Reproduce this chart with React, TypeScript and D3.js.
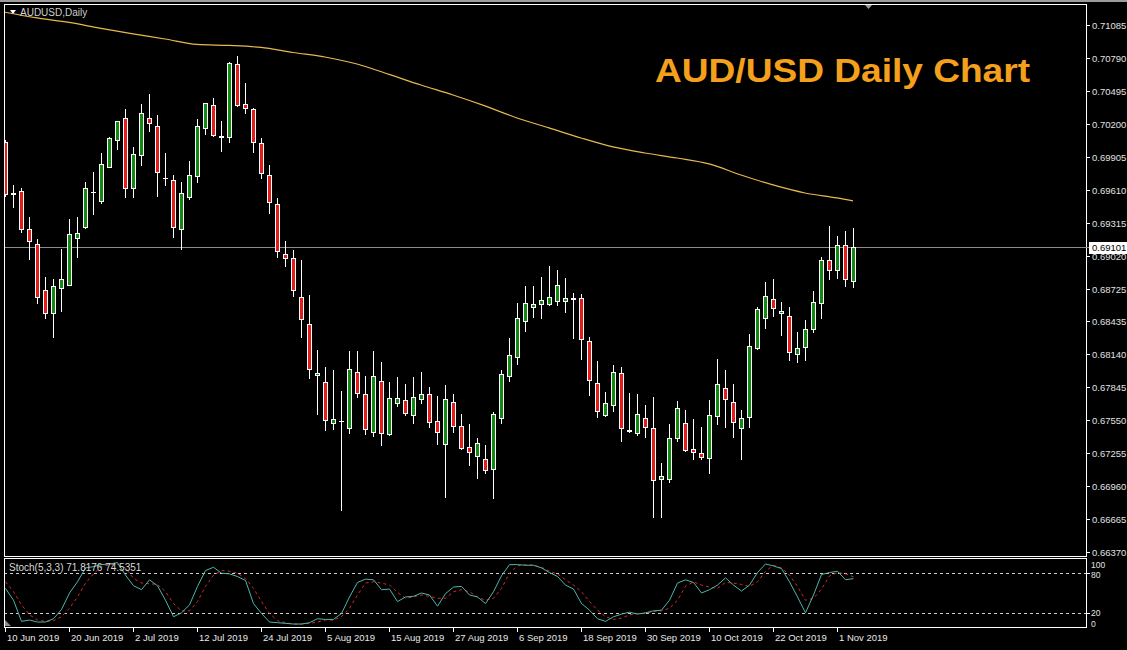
import React from "react";
import * as d3 from "d3";

// AUDUSD daily, 10 Jun 2019 .. 5 Nov 2019
const tickLabels = [
  "10 Jun 2019", "20 Jun 2019", "2 Jul 2019", "12 Jul 2019", "24 Jul 2019", "5 Aug 2019", "15 Aug 2019",
  "27 Aug 2019", "6 Sep 2019", "18 Sep 2019", "30 Sep 2019", "10 Oct 2019", "22 Oct 2019", "1 Nov 2019",
];
const barsPerTick = 8;

const priceTicks = [
  0.71085, 0.7079, 0.70495, 0.702, 0.69905, 0.6961, 0.69315, 0.6902, 0.68725, 0.68435, 0.6814,
  0.67845, 0.6755, 0.67255, 0.6696, 0.66665, 0.6637,
];
const lastPrice = 0.69101;

const opens = [
  0.70039, 0.69569, 0.69601, 0.6926, 0.69126, 0.68715, 0.68509, 0.68732, 0.68759, 0.69179,
  0.69278, 0.69587, 0.69511, 0.69815, 0.70056, 0.70253, 0.69627, 0.69922, 0.70253, 0.70181,
  0.69717, 0.69699, 0.6926, 0.69547, 0.69735, 0.70163, 0.70369, 0.70092, 0.70083, 0.70737,
  0.70378, 0.70334, 0.7003, 0.69744, 0.69484, 0.69036, 0.69, 0.68652, 0.68411, 0.67954,
  0.67892, 0.67524, 0.67542, 0.67479, 0.67981, 0.67784, 0.67444, 0.679, 0.67426, 0.67703,
  0.6773, 0.67596, 0.67739, 0.67784, 0.67542, 0.67336, 0.67712, 0.67497, 0.6731, 0.67229,
  0.67202, 0.67113, 0.67569, 0.67945, 0.68115, 0.68437, 0.68562, 0.68589, 0.68589, 0.68616,
  0.68616, 0.68634, 0.68643, 0.68258, 0.67882, 0.67596, 0.67685, 0.67972, 0.67453, 0.67435,
  0.67569, 0.67479, 0.67023, 0.67023, 0.6739, 0.67524, 0.67292, 0.67256, 0.67211, 0.67587,
  0.67837, 0.67712, 0.67479, 0.67578, 0.68196, 0.68464, 0.68634, 0.68509, 0.68482, 0.68142,
  0.68205, 0.68366, 0.68598, 0.68983, 0.68893, 0.69117, 0.68795,
];
const highs = [
  0.70056, 0.69654, 0.69627, 0.69368, 0.6917, 0.68831, 0.68813, 0.69081, 0.6935, 0.69368,
  0.69681, 0.69771, 0.6994, 0.70083, 0.70226, 0.70334, 0.69994, 0.70378, 0.70468, 0.7028,
  0.6994, 0.69744, 0.69681, 0.69869, 0.70244, 0.70387, 0.70432, 0.70226, 0.70755, 0.70808,
  0.70566, 0.70342, 0.70074, 0.69833, 0.69538, 0.69153, 0.69072, 0.68983, 0.6867, 0.68178,
  0.68026, 0.67999, 0.67811, 0.68169, 0.68169, 0.67945, 0.68169, 0.68071, 0.67891, 0.67936,
  0.67873, 0.67936, 0.67981, 0.67846, 0.67766, 0.67864, 0.67784, 0.67605, 0.67515, 0.6739,
  0.67328, 0.67623, 0.67999, 0.68285, 0.68598, 0.6875, 0.6875, 0.68831, 0.68929, 0.68893,
  0.68822, 0.68688, 0.68679, 0.68294, 0.6808, 0.67802, 0.68044, 0.68026, 0.67793, 0.67784,
  0.67685, 0.67757, 0.67166, 0.67515, 0.67721, 0.67641, 0.6756, 0.67488, 0.6773, 0.68097,
  0.67999, 0.67873, 0.67641, 0.68321, 0.68562, 0.68786, 0.68813, 0.68607, 0.68562, 0.68339,
  0.68446, 0.68705, 0.69009, 0.69287, 0.69197, 0.69242, 0.69269,
];
const lows = [
  0.69556, 0.69457, 0.69233, 0.68992, 0.68598, 0.68464, 0.68294, 0.68527, 0.68759, 0.69009,
  0.69269, 0.69395, 0.69493, 0.69815, 0.69976, 0.69547, 0.69547, 0.69833, 0.70137, 0.69556,
  0.69654, 0.69188, 0.69081, 0.69529, 0.69681, 0.7011, 0.70092, 0.69958, 0.70039, 0.7036,
  0.70298, 0.69949, 0.69717, 0.69404, 0.69009, 0.68929, 0.68661, 0.68294, 0.67927, 0.67605,
  0.67462, 0.67471, 0.66745, 0.67435, 0.67757, 0.67426, 0.67408, 0.67328, 0.6742, 0.67676,
  0.67596, 0.67524, 0.67703, 0.67488, 0.67336, 0.66862, 0.67444, 0.67295, 0.67149, 0.67032,
  0.67077, 0.66853, 0.67524, 0.679, 0.68053, 0.68348, 0.68473, 0.68464, 0.6858, 0.6858,
  0.68518, 0.68285, 0.68097, 0.67775, 0.67578, 0.6759, 0.67632, 0.67363, 0.67444, 0.67417,
  0.67399, 0.66683, 0.66683, 0.66996, 0.67363, 0.67274, 0.67202, 0.67202, 0.67077, 0.67515,
  0.67488, 0.67399, 0.67202, 0.67488, 0.6819, 0.68374, 0.68482, 0.68312, 0.68088, 0.68071,
  0.68088, 0.68339, 0.68464, 0.68813, 0.68822, 0.6875, 0.68741,
];
const closes = [
  0.69574, 0.69583, 0.6926, 0.69153, 0.68652, 0.68509, 0.6875, 0.68813, 0.69215, 0.69224,
  0.69627, 0.69592, 0.69842, 0.70074, 0.70226, 0.69627, 0.69931, 0.70298, 0.70208, 0.69771,
  0.69712, 0.69278, 0.69583, 0.69744, 0.70181, 0.70387, 0.70101, 0.70083, 0.70746, 0.70369,
  0.70342, 0.70039, 0.69762, 0.69502, 0.69063, 0.69, 0.68715, 0.68455, 0.68008, 0.67972,
  0.67551, 0.6756, 0.6754, 0.68008, 0.67793, 0.67471, 0.67945, 0.67435, 0.67748, 0.67748,
  0.67614, 0.67757, 0.67784, 0.67533, 0.67444, 0.67739, 0.67497, 0.67301, 0.67265, 0.67345,
  0.67104, 0.67605, 0.67963, 0.68133, 0.68464, 0.68598, 0.68589, 0.68625, 0.68652, 0.68759,
  0.68643, 0.68643, 0.68276, 0.67909, 0.67632, 0.67703, 0.67981, 0.67479, 0.67462, 0.67605,
  0.67488, 0.67014, 0.6705, 0.6739, 0.67659, 0.67283, 0.67265, 0.6722, 0.67596, 0.67873,
  0.67739, 0.67533, 0.67569, 0.68214, 0.68545, 0.68661, 0.68553, 0.68527, 0.6816, 0.68196,
  0.68366, 0.68607, 0.68983, 0.68893, 0.69117, 0.68813, 0.69101,
];

// 200-period moving average, read at a few bars
const maBars = [0, 4, 8, 12, 16, 20, 24, 28, 32, 36, 40, 44, 48, 52, 56, 60, 64, 68, 72, 76, 80, 84, 88, 92, 96, 100, 104, 106];
const maValues = [
  0.71199, 0.71148, 0.71108, 0.71054, 0.71005, 0.7096, 0.70911, 0.70902, 0.70884, 0.70839,
  0.70799, 0.70736, 0.70643, 0.70548, 0.70459, 0.70361, 0.70253, 0.70164, 0.70074, 0.69994,
  0.6994, 0.69895, 0.69842, 0.69743, 0.69654, 0.69582, 0.69538, 0.69511,
];

// Stoch(5,3,3)
const stochK = [
  57, 39, 7, 9, 6, 6, 11, 25, 50, 67, 88, 90, 93, 94, 96, 77, 61, 55, 70, 61,
  39, 14, 20, 32, 60, 84, 89, 80, 79, 75, 69, 34, 19, 6, 5, 4, 3, 3, 5, 11,
  10, 10, 19, 44, 66, 71, 70, 55, 56, 37, 44, 45, 50, 47, 30, 49, 59, 60, 47, 44,
  34, 52, 76, 93, 93, 92, 92, 88, 81, 75, 62, 56, 34, 24, 11, 7, 14, 18, 21, 18,
  20, 23, 24, 39, 65, 70, 66, 50, 55, 62, 73, 62, 53, 62, 81, 94, 91, 87, 67, 44,
  20, 47, 78, 81, 83, 70, 71.8176,
];
const stochD = [
  67, 52, 32, 17, 9, 7, 8, 14, 27, 44, 65, 79, 90, 93, 93, 88, 72, 65, 64, 63,
  52, 34, 23, 23, 37, 60, 77, 84, 83, 80, 72, 57, 37, 19, 8, 5, 3, 3, 4, 6,
  9, 9, 14, 27, 47, 65, 67, 65, 62, 51, 42, 44, 47, 45, 42, 42, 52, 55, 52, 44,
  39, 42, 57, 80, 91, 93, 92, 89, 83, 79, 70, 62, 52, 37, 24, 14, 10, 12, 17, 19,
  19, 22, 23, 27, 39, 60, 67, 62, 59, 57, 66, 65, 63, 60, 67, 83, 92, 88, 77, 60,
  39, 42, 56, 76, 81, 79, 74.5351,
];
const stochLevels = [80, 20];
const stochAxis = [100, 80, 20, 0];

const W = 1127;
const H = 650;
const FONT = "'Liberation Sans', Arial, sans-serif";
const BULL = "#128a12";
const BEAR = "#e31b1b";

export default function App() {
  const n = opens.length;
  const left = 4;
  const right = 1086;
  const mainTop = 4;
  const mainBottom = 556;
  const stTop = 558;
  const stBottom = 627;

  const x = d3.scaleLinear().domain([0, n - 1]).range([5, 5 + 8 * (n - 1)]);
  const y = d3.scaleLinear().domain([0.6637, 0.71085]).range([552, 25]);
  const ys = d3.scaleLinear().domain([0, 100]).range([626, 560]);

  const maLine = d3
    .line<number>()
    .x((_, i) => x(maBars[i]))
    .y((v) => y(v))
    .curve(d3.curveMonotoneX)(maValues);

  const kLine = d3
    .line<number>()
    .x((_, i) => x(i) + 0.5)
    .y((v) => ys(v))(stochK);
  const dLine = d3
    .line<number>()
    .x((_, i) => x(i) + 0.5)
    .y((v) => ys(v))(stochD);

  const priceFmt = d3.format(".5f");
  const stochFmt = d3.format(".4f");
  const lastY = Math.round(y(lastPrice)) + 0.5;

  // axis labels at 100/0 are nudged inward like the terminal does
  const stochLabelY: Record<number, number> = { 100: 567.5, 80: 578, 20: 616, 0: 626.5 };

  return (
    <svg
      width={W}
      height={H}
      style={{ position: "fixed", left: 0, top: 0, background: "#000" }}
      fontFamily={FONT}
    >
      <defs>
        <clipPath id="mainClip">
          <rect x={left} y={mainTop} width={right - left} height={mainBottom - mainTop} />
        </clipPath>
        <clipPath id="stClip">
          <rect x={left} y={stTop} width={right - left} height={stBottom - stTop} />
        </clipPath>
      </defs>
      <rect x={0} y={0} width={W} height={H} fill="#000" />
      <rect x={0} y={0} width={W} height={2} fill="#9c9c9c" />

      {/* main panel */}
      <g clipPath="url(#mainClip)">
        <line x1={left} x2={right} y1={lastY} y2={lastY} stroke="#8c8c8c" strokeWidth={1} />
        <path d={maLine ?? ""} fill="none" stroke="#e8b850" strokeWidth={1.2} />
        <g shapeRendering="crispEdges">
          {opens.map((o, i) => {
            const c = closes[i];
            const cx = Math.round(x(i));
            const top = Math.round(y(Math.max(o, c)));
            const bot = Math.round(y(Math.min(o, c)));
            const up = c >= o;
            return (
              <g key={i}>
                <line
                  x1={cx + 0.5}
                  x2={cx + 0.5}
                  y1={Math.round(y(highs[i]))}
                  y2={Math.round(y(lows[i])) + 1}
                  stroke="#fff"
                />
                {bot - top >= 1 ? (
                  <rect
                    x={cx - 1.5}
                    y={top + 0.5}
                    width={4}
                    height={bot - top}
                    fill={up ? BULL : BEAR}
                    stroke="#fff"
                  />
                ) : (
                  <line x1={cx - 2} x2={cx + 3} y1={top + 0.5} y2={top + 0.5} stroke="#fff" />
                )}
              </g>
            );
          })}
        </g>
      </g>
      <rect
        x={left + 0.5}
        y={mainTop + 0.5}
        width={right - left}
        height={mainBottom - mainTop}
        fill="none"
        stroke="#fff"
        shapeRendering="crispEdges"
      />
      <path d="M10,10 L16,10 L13,14 Z" fill="#fff" />
      <text x={20} y={16} fontSize={10} fill="#cfcfcf">
        AUDUSD,Daily
      </text>
      <path d="M865,5 L872,5 L868.5,9 Z" fill="#9a9a9a" />
      <text
        x={655}
        y={82}
        fontSize={34}
        fontWeight="bold"
        fill="#f5a01c"
        textLength={375}
        lengthAdjust="spacingAndGlyphs"
      >
        AUD/USD Daily Chart
      </text>

      {/* price axis */}
      <g shapeRendering="crispEdges">
        {priceTicks.map((p) => {
          const py = Math.round(y(p)) + 0.5;
          return (
            <g key={p}>
              <line x1={right + 0.5} x2={right + 4} y1={py} y2={py} stroke="#fff" />
              <text x={1092} y={py + 3.5} fontSize={9.5} fill="#e0e0e0" shapeRendering="auto">
                {priceFmt(p)}
              </text>
            </g>
          );
        })}
        <line x1={right} x2={1090} y1={lastY} y2={lastY} stroke="#8c8c8c" />
        <rect x={1089} y={lastY - 6} width={38} height={12} fill="#fff" />
        <text x={1092} y={lastY + 3.5} fontSize={9.5} fill="#000">
          {priceFmt(lastPrice)}
        </text>
      </g>

      {/* stochastic panel */}
      <g clipPath="url(#stClip)">
        {stochLevels.map((lv) => (
          <line
            key={lv}
            x1={left}
            x2={right}
            y1={Math.round(ys(lv)) + 0.5}
            y2={Math.round(ys(lv)) + 0.5}
            stroke="#cfcfcf"
            strokeDasharray="3,3"
            shapeRendering="crispEdges"
          />
        ))}
        <path d={dLine ?? ""} fill="none" stroke="#d42a2a" strokeWidth={1} strokeDasharray="3,3" />
        <path d={kLine ?? ""} fill="none" stroke="#4fb5aa" strokeWidth={1} />
        <path d="M5,620 L5,626 L11,626 Z" fill="#8a8a8a" />
      </g>
      <rect
        x={left + 0.5}
        y={stTop + 0.5}
        width={right - left}
        height={stBottom - stTop}
        fill="none"
        stroke="#fff"
        shapeRendering="crispEdges"
      />
      <text x={9} y={571} fontSize={10} fill="#d8d8d8">
        {`Stoch(5,3,3) ${stochFmt(stochK[n - 1])} ${stochFmt(stochD[n - 1])}`}
      </text>
      {stochAxis.map((v) => {
        const vy = ys(v);
        return (
          <g key={v}>
            {(v === 80 || v === 20) && (
              <line
                x1={right + 0.5}
                x2={right + 4}
                y1={Math.round(vy) + 0.5}
                y2={Math.round(vy) + 0.5}
                stroke="#fff"
                shapeRendering="crispEdges"
              />
            )}
            <text x={1091} y={stochLabelY[v]} fontSize={8.5} fill="#e0e0e0">
              {v}
            </text>
          </g>
        );
      })}

      {/* time axis */}
      {tickLabels.map((lbl, k) => {
        const tx = Math.round(x(k * barsPerTick)) + 0.5;
        return (
          <g key={lbl}>
            <line x1={tx} x2={tx} y1={stBottom + 1} y2={stBottom + 5} stroke="#fff" shapeRendering="crispEdges" />
            <text x={tx + 1.5} y={641} fontSize={9.5} fill="#e8e8e8">
              {lbl}
            </text>
          </g>
        );
      })}
    </svg>
  );
}
